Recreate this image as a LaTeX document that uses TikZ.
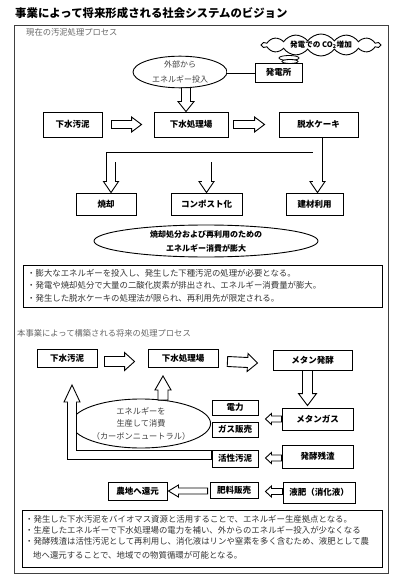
\documentclass[tikz,border=0pt]{standalone}
\usepackage{fontspec}
\setmainfont{Noto Sans CJK JP}
\usetikzlibrary{calc,shapes.geometric,shapes.symbols}

\newcommand{\bxfont}{\fontsize{8.5pt}{10pt}\selectfont\bfseries}
\newcommand{\txfont}{\fontsize{8.4pt}{10pt}\selectfont}

% hollow block arrow: start, end, shaft half width, head half width, head length
\newcommand{\blockarr}[5]{%
  \coordinate (ba-s) at (#1);
  \coordinate (ba-e) at (#2);
  \coordinate (ba-c) at ($(ba-e)!#5!(ba-s)$);
  \draw[arrowline] ($(ba-s)!#3!90:(ba-e)$) -- ($(ba-c)!#3!90:(ba-e)$)
    -- ($(ba-c)!#4!90:(ba-e)$) -- (ba-e) -- ($(ba-c)!#4!-90:(ba-e)$)
    -- ($(ba-c)!#3!-90:(ba-e)$) -- ($(ba-s)!#3!-90:(ba-e)$) -- cycle;
}

\begin{document}
\begin{tikzpicture}[x=1pt,y=-1pt,
  box/.style={draw, line width=0.9pt, fill=white, inner sep=0pt, font=\bxfont, text=black},
  ell/.style={ellipse, draw, line width=0.9pt, fill=white, inner sep=0pt},
  arrowline/.style={draw, line width=0.9pt, fill=white, line join=miter},
  frame/.style={draw=black!75, line width=0.8pt},
  txt/.style={anchor=west, inner sep=0pt, font=\txfont, text=black!80},
  lbl/.style={anchor=west, inner sep=0pt, font=\fontsize{8.3pt}{10pt}\selectfont, text=black!60}]
\useasboundingbox (0,0) rectangle (400,585);
\fill[white] (0,0) rectangle (400,585);

% title and frame
\node[anchor=west, inner sep=0pt, font=\fontsize{11.4pt}{13pt}\selectfont\bfseries] (title) at (15,13) {事業によって将来形成される社会システムのビジョン};
\draw[frame] (14,25) rectangle (388,573);

% ===== Section 1 =====
\node[lbl] (lbl1) at (26,32) {現在の汚泥処理プロセス};

\node[cloud, cloud puffs=14, cloud puff arc=110, cloud ignores aspect, draw, line width=0.9pt,
      minimum width=118pt, minimum height=22pt, inner sep=0pt,
      font=\fontsize{7.6pt}{9pt}\selectfont\bfseries] (cloud) at (321,45) {発電での CO\textsubscript{2}増加};
\node[ellipse, draw, line width=0.8pt, fill=white, minimum width=20pt, minimum height=5pt, inner sep=0pt] (puffA) at (289,58) {};
\node[ellipse, draw, line width=0.8pt, fill=white, minimum width=16pt, minimum height=4pt, inner sep=0pt] (puffB) at (290,61.5) {};

\node[ell, minimum width=94pt, minimum height=30pt, align=center,
      font=\fontsize{8pt}{15pt}\selectfont, text=black!75] (ell1) at (180,72) {外部から\\エネルギー投入};
\node[box, minimum width=47pt, minimum height=19pt] (hatsu) at (278.5,72.5) {発電所};
\draw[line width=0.8pt, double, double distance=3pt] (ell1.east) -- (ell1.east -| hatsu.west);

\node[box, minimum width=59pt, minimum height=25pt] (osui1) at (72.5,124.5) {下水汚泥};
\node[box, minimum width=74pt, minimum height=25pt] (shori1) at (191,124.5) {下水処理場};
\node[box, minimum width=79pt, minimum height=25pt] (dassui) at (318.5,124.5) {脱水ケーキ};

\coordinate (a1e) at ($(shori1.north)+(-5,0)$);
\coordinate (a1s) at ($(a1e |- ell1.south)+(0,-0.5)$);
\blockarr{a1s}{a1e}{4.5pt}{8pt}{10pt}
\blockarr{$(osui1.east)+(9,0)$}{$(shori1.west)+(-12,0)$}{4pt}{7.5pt}{10pt}
\blockarr{$(shori1.east)+(5,0)$}{$(dassui.west)+(-14,0)$}{4pt}{7.5pt}{10pt}

\node[box, minimum width=60pt, minimum height=22pt] (shoukyaku) at (106,204) {焼却};
\node[box, minimum width=71pt, minimum height=22pt] (compost) at (206.5,204) {コンポスト化};
\node[box, minimum width=57pt, minimum height=22pt] (kenzai) at (314.5,204) {建材利用};

% manifold from 脱水ケーキ
\coordinate (barY) at (0,157.5);
\coordinate (mtop) at ($(dassui.south)+(-1,0)$);
\coordinate (mtip) at (mtop |- kenzai.north);
\coordinate (mbase) at ($(mtip)+(0,-11)$);
\coordinate (ltip) at ($(shoukyaku.north)+(5,0)$);
\coordinate (lbase) at ($(ltip)+(0,-11)$);
\coordinate (ctip) at (compost.north);
\coordinate (cbase) at ($(ctip)+(0,-11)$);
\coordinate (barL) at (ltip |- barY);
\coordinate (barR) at (mtop |- barY);
\coordinate (barC) at (ctip |- barY);
\draw[line width=10pt, line join=miter] (lbase) -- (barL) -- (barR);
\draw[line width=10pt] (barC) -- (cbase);
\draw[line width=10pt] (mtop) -- (mbase);
\foreach \t/\b in {ltip/lbase, ctip/cbase, mtip/mbase}{
  \draw[arrowline] ($(\b)+(-7.5,0)$) -- (\t) -- ($(\b)+(7.5,0)$) -- cycle;
}
\draw[white, line width=8.2pt, line join=miter] ($(lbase)+(0,1.5)$) -- (barL) -- (barR);
\draw[white, line width=8.2pt] (barC) -- ($(cbase)+(0,1.5)$);
\draw[white, line width=8.2pt] ($(mtop)+(0,0.6)$) -- ($(mbase)+(0,1.5)$);

\node[ell, minimum width=224pt, minimum height=32pt, align=center,
      font=\fontsize{8pt}{14pt}\selectfont\bfseries] (ell2) at (206,241) {焼却処分および再利用のための\\エネルギー消費が膨大};

\draw[line width=0.9pt] (23,265) rectangle (382,307);
\node[txt] (b11) at (27,273) {・膨大なエネルギーを投入し、発生した下種汚泥の処理が必要となる。};
\node[txt] (b12) at (27,285) {・発電や焼却処分で大量の二酸化炭素が排出され、エネルギー消費量が膨大。};
\node[txt] (b13) at (27,298) {・発生した脱水ケーキの処理法が限られ、再利用先が限定される。};

% ===== Section 2 =====
\node[lbl] (lbl2) at (17,333) {本事業によって構築される将来の処理プロセス};

\node[box, minimum width=60pt, minimum height=18pt] (osui2) at (67,358.5) {下水汚泥};
\node[box, minimum width=70pt, minimum height=18pt] (shori2) at (183,358.5) {下水処理場};
\node[box, minimum width=79pt, minimum height=20pt] (methane) at (312.5,360) {メタン発酵};
\blockarr{$(osui2.east)+(7,3)$}{$(shori2.west)+(-13,3)$}{5pt}{9pt}{10pt}
\blockarr{$(shori2.east)+(9,3)$}{$(methane.west)+(-15,3)$}{5pt}{9pt}{10pt}

\node[box, minimum width=71pt, minimum height=22pt] (gas) at (317.5,419) {メタンガス};
\coordinate (a2s) at ($(methane.south)+(-5,0)$);
\coordinate (a2e) at ($(a2s |- gas.north)+(0,-2)$);
\blockarr{a2s}{a2e}{5pt}{9pt}{12pt}

\node[box, minimum width=46pt, minimum height=15pt] (denryoku) at (235,407.5) {電力};
\node[box, minimum width=46pt, minimum height=15pt] (gashan) at (235,429.5) {ガス販売};
\blockarr{gas.west}{$(denryoku.east |- gas.west)+(7,0)$}{3pt}{5.5pt}{6pt}

\node[ell, minimum width=111pt, minimum height=49pt, align=center,
      font=\fontsize{8.2pt}{12.5pt}\selectfont, text=black!75] (ell3) at (141,423.5) {エネルギーを\\生産して消費\\（カーボンニュートラル）};
\blockarr{$(ell3.north)+(22,1.5)$}{$(shori2.south)+(-20,8)$}{5pt}{8pt}{14pt}

\node[box, minimum width=46pt, minimum height=17pt] (kassei) at (235,458.5) {活性汚泥};
\node[box, minimum width=71pt, minimum height=23pt] (zansa) at (317.5,456.5) {発酵残渣};
\blockarr{$(zansa.west)+(0,1.5)$}{$(kassei.east |- zansa.west)+(7,1.5)$}{3pt}{5.5pt}{6pt}

% L-shaped return arrow
\coordinate (Lstart) at ($(kassei.west)+(0,-3.5)$);
\coordinate (Lcorner) at (72,455);
\coordinate (Ltip) at (72,385);
\coordinate (Lbase) at (72,402);
\draw[line width=10pt, line join=miter] (Lstart) -- (Lcorner) -- (Lbase);
\draw[arrowline] ($(Lbase)+(-8,0)$) -- (Ltip) -- ($(Lbase)+(8,0)$) -- cycle;
\draw[white, line width=8.2pt, line join=miter] ($(Lstart)+(-0.6,0)$) -- (Lcorner) -- ($(Lbase)+(0,-1.5)$);

\node[box, minimum width=59pt, minimum height=18pt] (nouchi) at (137.5,491) {農地へ還元};
\node[box, minimum width=48pt, minimum height=16pt] (hiryo) at (234,490) {肥料販売};
\node[box, minimum width=72pt, minimum height=21pt] (ekihi) at (319,492.5) {液肥（消化液）};
\blockarr{$(hiryo.west)+(-2,1)$}{$(nouchi.east |- hiryo.west)+(1,1)$}{3pt}{6pt}{10pt}
\blockarr{$(ekihi.west)+(0,-1)$}{$(hiryo.east |- ekihi.west)+(7,-1)$}{3pt}{5.5pt}{6pt}

\draw[line width=0.9pt] (22,510) rectangle (382,567);
\node[txt] (b21) at (25,519) {・発生した下水汚泥をバイオマス資源と活用することで、エネルギー生産拠点となる。};
\node[txt] (b22) at (25,530) {・生産したエネルギーで下水処理場の電力を補い、外からのエネルギー投入が少なくなる};
\node[txt] (b23) at (25,541) {・発酵残渣は活性汚泥として再利用し、消化液はリンや窒素を多く含むため、液肥として農};
\node[txt] (b24) at (33,555) {地へ還元することで、地域での物質循環が可能となる。};
\end{tikzpicture}
\end{document}
